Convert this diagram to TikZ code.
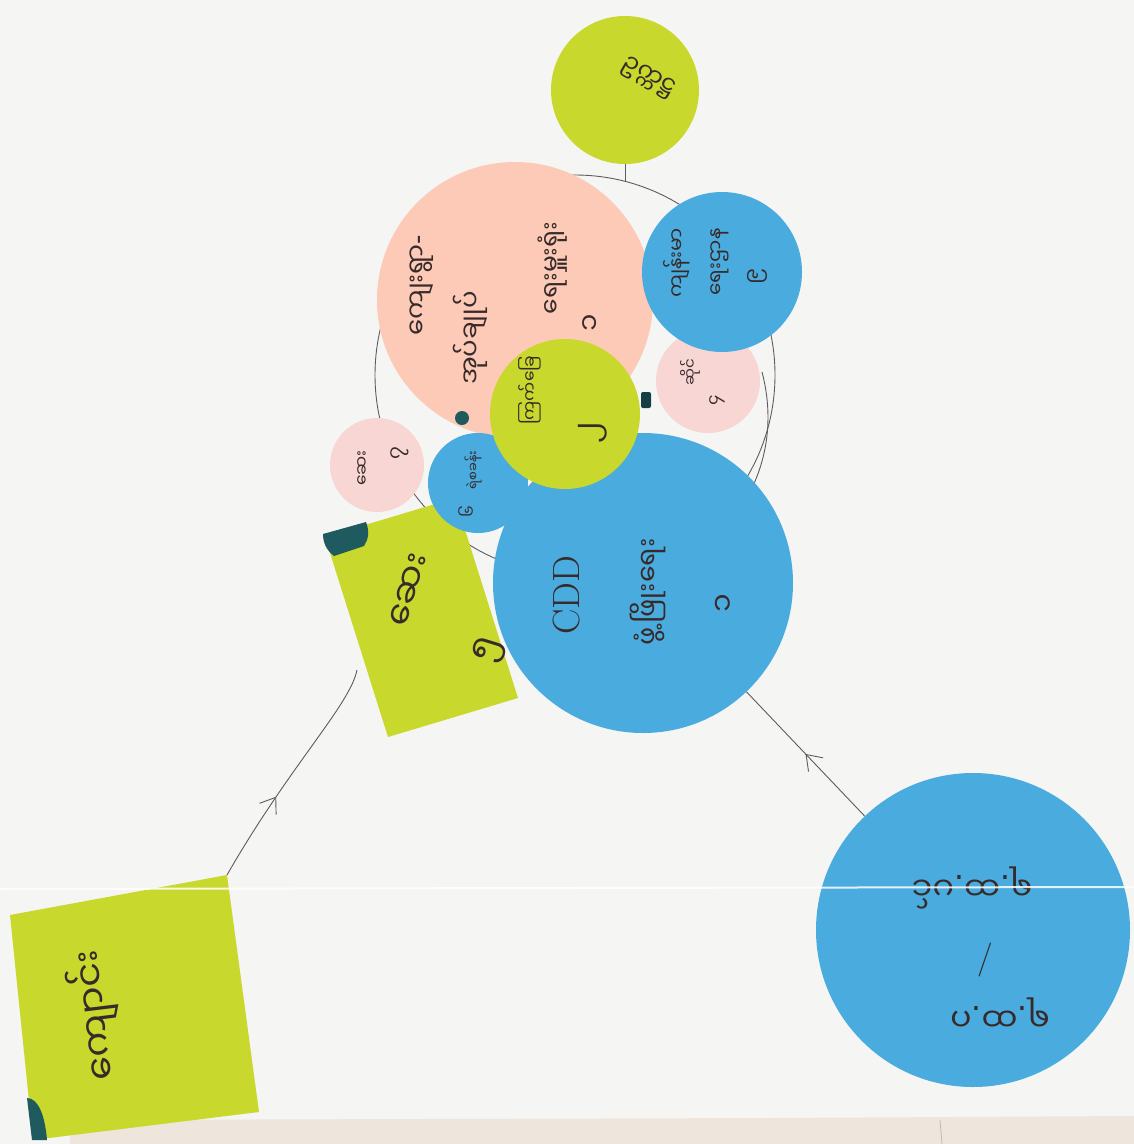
\documentclass[tikz,border=0pt]{standalone}
\usepackage{fontspec}
\newfontfamily\mya[Script=Myanmar]{Noto Sans Myanmar UI}
\newfontfamily\lat{DejaVu Sans}
\newcommand{\mydot}{{\lat .}}
\newcommand{\myhy}{{\lat -}}
\usetikzlibrary{arrows.meta,decorations.markings}
\definecolor{bgc}{RGB}{245,245,243}
\definecolor{ylw}{RGB}{201,216,44}
\definecolor{blu}{RGB}{74,172,222}
\definecolor{pnk}{RGB}{252,202,182}
\definecolor{lpnk}{RGB}{248,214,212}
\definecolor{teal}{RGB}{30,90,94}
\definecolor{inkc}{RGB}{55,42,42}
\definecolor{pencilc}{RGB}{95,90,95}
\definecolor{tablec}{RGB}{238,230,220}
\tikzset{
  disc/.style={circle, inner sep=0pt, draw=none},
  ink/.style={text=inkc, inner sep=0pt, rotate=90, font=\mya\fontsize{#1}{#1}\selectfont},
  pencil/.style={draw=pencilc, line width=0.9pt},
  midarrow/.style={postaction={decorate}, decoration={markings, mark=at position #1 with {\arrow[pencilc, line width=0.9pt]{Straight Barb[length=14pt,width=20pt]}}}}
}
\begin{document}
\begin{tikzpicture}[x=1pt,y=-1pt]
\fill[bgc] (0,0) rectangle (1134,1144);
\useasboundingbox (0,0) rectangle (1134,1144);
\fill[tablec] (70,1120) -- (770,1118) -- (1134,1116) -- (1134,1144) -- (70,1144) -- cycle;
\draw[tablec!80!black, line width=0.8pt] (940,1120) -- (942,1144);

% ring drawn round the central group
\draw[pencil] (575,375) circle[radius=200];
\draw[pencil] (762,372) .. controls (772,410) and (770,450) .. (752,488);
\coordinate (ringtop) at (625,182);

% central group
\node[disc, fill=pnk, minimum size=276pt] (pink) at (515,300) {};
\node[disc, fill=ylw, minimum size=148pt] (top) at (625,90) {};
\node[disc, fill=lpnk, minimum size=104pt] (pinkR) at (708,381) {};
\node[disc, fill=blu, minimum size=160pt] (blueTR) at (722,272) {};
\node[disc, fill=lpnk, minimum size=94pt] (pinkL) at (377,465) {};
\fill[ylw] (325,537) -- (455,498) -- (518,698) -- (388,737) -- cycle;
\fill[teal] (323,534) -- (366,522) .. controls (370,532) and (368,540) .. (364,546) -- (334,556) .. controls (326,550) and (323,542) .. cycle;
\node[disc, fill=blu, minimum size=100pt] (blueS) at (478,483) {};
\node[disc, fill=blu, minimum size=300pt] (cdd) at (643,583) {};
\node[disc, fill=ylw, minimum size=150pt] (ymid) at (565,414) {};
\fill[teal] (462,418) circle[radius=7];
\fill[teal!70!black, rounded corners=2pt] (641,392) rectangle (651,408);

% bottom shapes
\coordinate (bl1) at (10,915);
\coordinate (bl2) at (227,875);
\coordinate (bl3) at (259,1112);
\coordinate (bl4) at (33,1140);
\fill[ylw] (bl1) -- (bl2) -- (bl3) -- (bl4) -- cycle;
\fill[teal] (27,1098) .. controls (38,1098) and (45,1115) .. (47,1140) -- (32,1140) -- cycle;
\node[disc, fill=blu, minimum size=314pt] (br) at (973,930) {};

% connectors
\draw[pencil] (top) -- (ringtop);
\coordinate (ysqEnd) at (357,670);
\draw[pencil, midarrow=0.38] (bl2) .. controls (290,765) and (350,705) .. (ysqEnd);
\draw[pencil, midarrow=0.5] (br) -- (cdd);

% texts
\node[ink=24, rotate=-120] (tTop) at (648,78) {ဥက္ကဋ္ဌ};
\node[ink=26] (tPk1) at (422,285) {ကျေးရွာ\myhy};
\node[ink=26] (tPk2) at (470,338) {အုပ်ချုပ်};
\node[ink=25] (tPk3) at (553,268) {ရေးမှူးရုံး};
\node[ink=28] (tPk4) at (592,323) {၁};
\node[ink=20] (tB1) at (677,263) {ကျန်းမာ};
\node[ink=20] (tB2) at (720,262) {ရေးဌာန};
\node[ink=22] (tB3) at (757,277) {၉};
\node[ink=15] (tPR1) at (690,372) {ဆိုင်};
\node[ink=17] (tPR2) at (717,400) {၄};
\node[ink=17] (tY1) at (530,390) {ကြက်ခြေ};
\node[ink=32] (tY2) at (593,433) {၂};
\node[ink=17] (tPL1) at (363,468) {ဆေး};
\node[ink=20] (tPL2) at (400,453) {၇};
\node[ink=13] (tS1) at (473,470) {ရဲစခန်း};
\node[ink=16] (tS2) at (467,512) {၆};
\node[ink=36, rotate=-17] (tQ1) at (410,590) {ဆေး};
\node[ink=36, rotate=-17] (tQ2) at (490,650) {၅};
\node[text=inkc, rotate=90, inner sep=0pt, font=\fontsize{38}{38}\selectfont] (tC1) at (567,595) {CDD};
\node[ink=27] (tC2) at (648,592) {ဖွံ့ဖြိုးရေး};
\node[ink=30] (tC3) at (725,603) {၁};
\node[ink=32, rotate=90] (tR1) at (972,888) {ရ\mydot ထ\mydot ပင်};
\node[text=inkc, inner sep=0pt, font=\fontsize{34}{34}\selectfont] (tR2) at (985,960) {/};
\node[ink=32, rotate=90] (tR3) at (1000,1012) {ရ\mydot ထ\mydot ဂ};
\node[ink=38, rotate=7] (tL) at (95,1015) {ကျောင်း};

% crease of the photographed sheet
\draw[white, line width=2pt, opacity=0.85] (0,889) -- (1134,887);
\end{tikzpicture}
\end{document}
